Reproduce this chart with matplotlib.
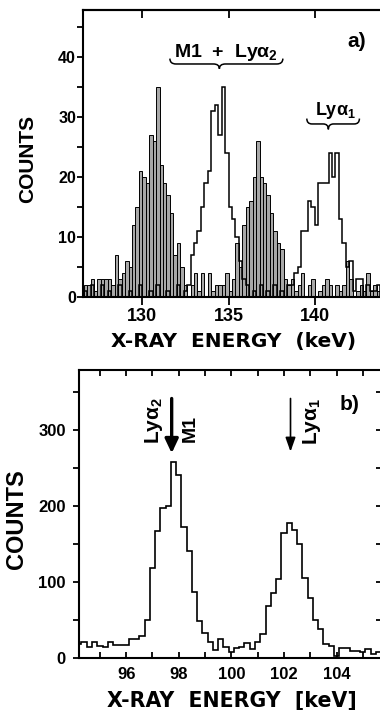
import numpy as np
import matplotlib
matplotlib.use('Agg')
import matplotlib.pyplot as plt
from matplotlib.path import Path
from matplotlib.patches import PathPatch
from matplotlib.ticker import MultipleLocator
from matplotlib import font_manager as fm

# ---------------- data ----------------
# panel a: 0.2 keV bins starting at 126.6 keV
a_bin_start = 126.6
a_bin_width = 0.2
a_shaded = [2, 2, 3, 1, 3, 3, 3, 3, 2, 7, 3, 4, 6, 5, 12, 15, 21, 20, 19, 27,
            26, 35, 22, 19, 17, 14, 7, 9, 5, 2, 0, 2, 4, 1, 4, 0, 4, 1, 2, 2,
            2, 4, 1, 3, 9, 5, 12, 15, 16, 20, 26, 20, 19, 17, 14, 11, 9, 8, 3, 2,
            3, 1, 2, 4, 0, 2, 3, 0, 1, 2, 3, 2, 0, 2, 1, 2, 6, 3, 0, 1,
            2, 1, 4, 1, 2, 1]
a_open = [1, 0, 2, 0, 0, 2, 0, 1, 0, 0, 2, 0, 0, 1, 0, 0, 2, 0, 0, 1,
          0, 2, 0, 0, 1, 0, 0, 2, 0, 1, 2, 7, 9, 11, 15, 19, 21, 31, 32, 27,
          35, 24, 15, 13, 10, 6, 3, 2, 0, 1, 0, 2, 0, 1, 0, 2, 0, 1, 0, 2,
          2, 4, 5, 11, 11, 16, 15, 12, 19, 19, 19, 24, 20, 24, 13, 9, 5, 6, 1, 3,
          3, 0, 2, 1, 1, 2]
a_xticks = [130, 135, 140]
a_yticks = [0, 10, 20, 30, 40]

# panel b: 0.2 keV bins starting at 93.9 keV
b_bin_start = 93.9
b_bin_width = 0.2
b_counts = [18, 18, 20, 14, 21, 15, 14, 20, 17, 17, 17, 25, 25, 28, 50, 118, 167, 197, 200, 257,
            240, 172, 141, 86, 48, 33, 21, 10, 24, 14, 8, 13, 14, 19, 11, 20, 31, 68, 85, 104,
            164, 177, 168, 149, 105, 78, 50, 38, 18, 16, 2, 13, 13, 9, 9, 8, 12, 5, 8]
b_xticks = [96, 98, 100, 102, 104]
b_yticks = [0, 100, 200, 300]

# ---------------- fonts ----------------
names = {f.name for f in fm.fontManager.ttflist}
SANS = 'Liberation Sans' if 'Liberation Sans' in names else 'DejaVu Sans'
NARROW = 'Liberation Sans Narrow' if 'Liberation Sans Narrow' in names else SANS
plt.rcParams.update({
    'font.family': [SANS, 'DejaVu Sans'],
    'font.weight': 'bold',
    'mathtext.fontset': 'custom',
    'mathtext.rm': SANS + ':bold',
    'mathtext.it': SANS + ':bold',
    'mathtext.bf': SANS + ':bold',
})

W, H = 380, 710
fig = plt.figure(figsize=(W / 100, H / 100), dpi=100)


def axrect(l, r, t, b):
    return [l / W, (H - b) / H, (r - l) / W, (b - t) / H]


axA = fig.add_axes(axrect(83, 382, 10, 296.7))
axB = fig.add_axes(axrect(79, 382, 370, 657.7))

# ---------------- panel a ----------------
edgesA = a_bin_start + a_bin_width * np.arange(len(a_shaded) + 1)
axA.bar(edgesA[:-1], a_shaded, width=a_bin_width, align='edge', color='#a8a8a8',
        edgecolor='black', linewidth=0.7, zorder=2)
axA.stairs(a_open, edgesA, color='black', linewidth=1.1, zorder=3)
axA.set_xlim(126.56, 143.9)
axA.set_ylim(0, 47.8)


def hbrace(ax, x0, x1, xm, ytop, ymid, ytip, r, lw=1.1):
    verts = [(x0, ytop), (x0, ymid), (x0 + r, ymid), (xm - r, ymid), (xm, ymid), (xm, ytip),
             (xm, ymid), (xm + r, ymid), (x1 - r, ymid), (x1, ymid), (x1, ytop)]
    codes = [Path.MOVETO, Path.CURVE3, Path.CURVE3, Path.LINETO, Path.CURVE3, Path.CURVE3,
             Path.CURVE3, Path.CURVE3, Path.LINETO, Path.CURVE3, Path.CURVE3]
    ax.add_patch(PathPatch(Path(verts, codes), fill=False, lw=lw, color='black', zorder=4))


hbrace(axA, 131.6, 138.15, 134.47, 39.7, 38.8, 38.0, 0.35)
hbrace(axA, 139.54, 142.59, 140.79, 29.7, 28.8, 27.9, 0.3)
axA.text(134.85, 39.9, r'M1  +  Ly$\alpha_2$', ha='center', va='baseline', fontsize=14)
axA.text(141.18, 30.3, r'Ly$\alpha_1$', ha='center', va='baseline', fontsize=13)
axA.text(142.44, 42.5, 'a)', ha='center', va='center', fontsize=15)

axA.set_xticks(a_xticks, labels=[str(t) for t in a_xticks], fontsize=13,
               fontfamily=NARROW, fontweight='bold')
axA.set_yticks(a_yticks, labels=[str(t) for t in a_yticks], fontsize=11.5,
               fontfamily=NARROW, fontweight='bold')
axA.yaxis.set_minor_locator(MultipleLocator(5))
axA.tick_params(axis='x', which='major', direction='out', length=6, width=1.3, pad=2)
axA.tick_params(axis='y', which='both', direction='out', length=4, width=1.3, pad=1)
secA = axA.secondary_xaxis('top')
secA.set_xticks(a_xticks)
secA.tick_params(direction='in', length=6, width=1.3, labeltop=False)
for sp in list(axA.spines.values()) + list(secA.spines.values()):
    sp.set_linewidth(1.5)

# ---------------- panel b ----------------
edgesB = b_bin_start + b_bin_width * np.arange(len(b_counts) + 1)
axB.stairs(b_counts, edgesB, color='black', linewidth=1.2, zorder=3)
axB.set_xlim(94.205, 105.73)
axB.set_ylim(0, 378.5)

axB.annotate('', xy=(97.73, 269), xytext=(97.73, 341),
             arrowprops=dict(arrowstyle='-|>,head_width=0.4,head_length=0.85',
                             lw=2.4, color='black', shrinkA=0, shrinkB=0))
axB.annotate('', xy=(102.25, 271), xytext=(102.25, 341),
             arrowprops=dict(arrowstyle='-|>,head_width=0.3,head_length=0.85',
                             lw=1.2, color='black', shrinkA=0, shrinkB=0))
axB.text(97.05, 312, r'Ly$\alpha_2$', rotation=90, ha='center', va='center', fontsize=15)
axB.text(98.42, 302, 'M1', rotation=90, ha='center', va='center', fontsize=14)
axB.text(103.08, 311, r'Ly$\alpha_1$', rotation=90, ha='center', va='center', fontsize=15)
axB.text(104.51, 332.5, 'b)', ha='center', va='center', fontsize=15)

axB.set_xticks(b_xticks, labels=[str(t) for t in b_xticks], fontsize=12,
               fontfamily=SANS, fontweight='bold')
axB.set_yticks(b_yticks, labels=[str(t) for t in b_yticks], fontsize=12,
               fontfamily=SANS, fontweight='bold')
axB.xaxis.set_minor_locator(MultipleLocator(1))
axB.yaxis.set_minor_locator(MultipleLocator(50))
axB.tick_params(axis='x', which='both', direction='in', length=4, width=1.3, top=True, pad=7)
axB.tick_params(axis='y', which='both', direction='out', length=4.5, width=1.3, pad=5)
secB = axB.secondary_yaxis('right')
secB.set_yticks(b_yticks[1:])
secB.yaxis.set_minor_locator(MultipleLocator(50))
secB.tick_params(which='both', direction='in', length=4, width=1.3, labelright=False)
for sp in list(axB.spines.values()) + list(secB.spines.values()):
    sp.set_linewidth(1.5)

# ---------------- axis titles ----------------
fig.text(27.5 / W, 1 - 159 / H, 'COUNTS', rotation=90, ha='center', va='center',
         fontsize=15, fontfamily=SANS, fontweight='bold')
fig.text(16.7 / W, 1 - 519 / H, 'COUNTS', rotation=90, ha='center', va='center',
         fontsize=17, fontfamily=NARROW, fontweight='bold')
fig.text(234 / W, 1 - 342 / H, 'X-RAY  ENERGY  (keV)', ha='center', va='center',
         fontsize=14.5, fontfamily='DejaVu Sans', fontweight='bold')
fig.text(232 / W, 1 - 700 / H, 'X-RAY  ENERGY  [keV]', ha='center', va='center',
         fontsize=14.8, fontfamily='DejaVu Sans', fontweight='bold')

fig.savefig('out.png', dpi=100)
